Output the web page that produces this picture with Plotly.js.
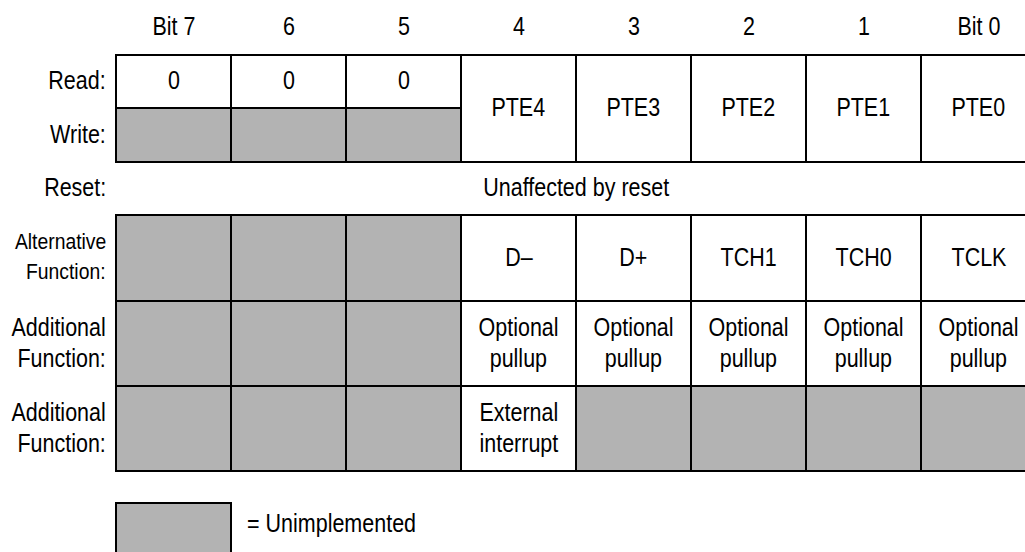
<!DOCTYPE html>
<html>
<head>
<meta charset="utf-8">
<script src="https://cdn.plot.ly/plotly-3.0.1.min.js"></script>
<style>html,body{margin:0;padding:0;background:#fff;}#chart{width:1025px;height:552px;}</style>
</head>
<body>
<div id="chart"></div>
<script>
// ---------- DATA ----------
const bitLabels = ['Bit 7', '6', '5', '4', '3', '2', '1', 'Bit 0'];
const rowLabels = ['Read:', 'Write:', 'Reset:', 'Alternative<br>Function:', 'Additional<br>Function:', 'Additional<br>Function:'];
const readValues = ['0', '0', '0', 'PTE4', 'PTE3', 'PTE2', 'PTE1', 'PTE0'];
const writeImplemented = [false, false, false, true, true, true, true, true];
const resetText = 'Unaffected by reset';
const altFunction = ['', '', '', 'D\u2013', 'D+', 'TCH1', 'TCH0', 'TCLK'];
const addFunction1 = ['', '', '', 'Optional<br>pullup', 'Optional<br>pullup', 'Optional<br>pullup', 'Optional<br>pullup', 'Optional<br>pullup'];
const addFunction2 = ['', '', '', 'External<br>interrupt', '', '', '', ''];
const legendText = '= Unimplemented';

// ---------- LAYOUT / STYLE ----------
const FONT = '"Liberation Sans", Arial, sans-serif';
const FS = 25;
const ALT_FS = 22.5;
const SCALE_X = 0.86;       // condensed look
const GRAY = '#b3b3b3';
const LINE = {color: '#000', width: 2};
const LINE_GAP = 31;
// vertical band edges (y-axis units, top-down)
const HEADER_Y = 27;
const READ = [55, 108], WRITE = [108, 162], RESET = [162, 215];
const ALT = [215, 301], ADD1 = [301, 386], ADD2 = [386, 471];
const LEG = [503, 556];
const LABEL_X = -0.07;
const Y_SHIFT = -1.5;

const shapes = [];
const ann = [];
function cell(c, band, filled) {
  shapes.push({type: 'rect', xref: 'x', yref: 'y', x0: c, x1: c + 1, y0: band[0], y1: band[1],
    fillcolor: filled ? GRAY : '#fff', line: LINE, layer: 'above'});
}
function text(x, y, t, opts, size, gap) {
  const lines = t.split('<br>');
  const n = lines.length;
  lines.forEach((ln, j) => {
    ann.push(Object.assign({x: x, y: y + Y_SHIFT + (j - (n - 1) / 2) * (gap || LINE_GAP),
      xref: 'x', yref: 'y', text: ln, showarrow: false,
      font: {family: FONT, size: size || FS, color: '#000'}, xanchor: 'center', yanchor: 'middle'}, opts || {}));
  });
}

bitLabels.forEach((b, i) => text(i + 0.5, HEADER_Y, b));

const rwBands = [READ, WRITE, RESET, ALT, ADD1, ADD2];
rowLabels.forEach((l, k) => {
  const band = rwBands[k];
  text(LABEL_X, (band[0] + band[1]) / 2, l, {xanchor: 'right'}, k === 3 ? ALT_FS : undefined, k === 3 ? 30 : undefined);
});

readValues.forEach((v, i) => {
  if (writeImplemented[i]) {
    cell(i, [READ[0], WRITE[1]], false);
    text(i + 0.5, (READ[0] + WRITE[1]) / 2, v);
  } else {
    cell(i, READ, false);
    text(i + 0.5, (READ[0] + READ[1]) / 2, v);
    cell(i, WRITE, true);
  }
});

text(bitLabels.length / 2, (RESET[0] + RESET[1]) / 2, resetText);

[[altFunction, ALT], [addFunction1, ADD1], [addFunction2, ADD2]].forEach(([arr, band]) => {
  arr.forEach((v, i) => {
    cell(i, band, v === '');
    if (v !== '') text(i + 0.5, (band[0] + band[1]) / 2, v);
  });
});

// legend
cell(0, LEG, true);
text(1.12, 524, legendText, {xanchor: 'left'});

const layout = {
  width: 1025, height: 552,
  margin: {l: 0, r: 0, t: 0, b: 0},
  paper_bgcolor: '#fff', plot_bgcolor: '#fff',
  showlegend: false,
  xaxis: {range: [-116 / 115, 909 / 115], visible: false, fixedrange: true},
  yaxis: {range: [552, 0], visible: false, fixedrange: true},
  shapes: shapes,
  annotations: ann
};

Plotly.newPlot('chart', [{x: [0], y: [0], mode: 'markers', marker: {opacity: 0}, hoverinfo: 'skip'}], layout, {staticPlot: true, displayModeBar: false})
.then(gd => {
  const groups = gd.querySelectorAll('.annotation');
  groups.forEach((g, i) => {
    const t = g.querySelector('text');
    if (!t || !ann[i]) return;
    const a = ann[i].xanchor;
    t.style.transformBox = 'fill-box';
    t.style.transformOrigin = a === 'right' ? '100% 50%' : a === 'left' ? '0% 50%' : '50% 50%';
    t.style.transform = 'scaleX(' + SCALE_X + ')';
  });
});
</script>
</body>
</html>
